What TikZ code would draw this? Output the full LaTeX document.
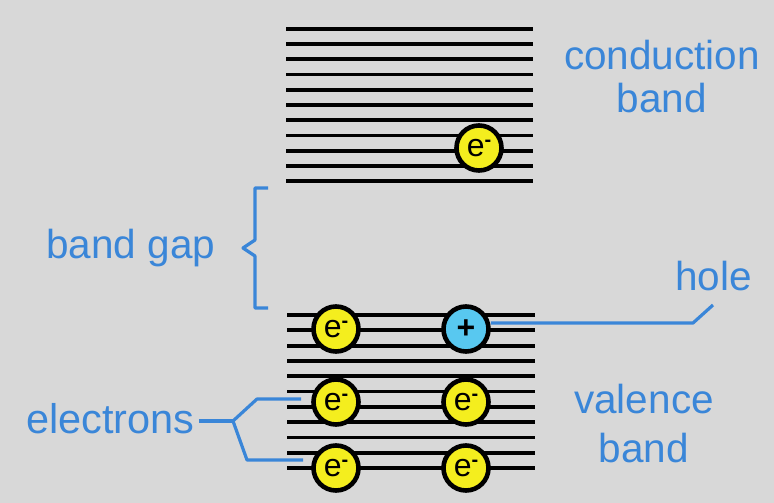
\documentclass[tikz,border=0pt]{standalone}
\usepackage{fontspec}
\setmainfont{Liberation Sans}
\definecolor{bg}{RGB}{216,216,216}
\definecolor{lblue}{RGB}{58,134,216}
\definecolor{eyel}{RGB}{244,238,30}
\definecolor{hcyan}{RGB}{88,200,240}
\tikzset{
  level/.style={line width=3.8pt,black},
  elec/.style={circle,draw=black,line width=4.6pt,fill=eyel,minimum size=45pt,inner sep=0pt,font=\fontsize{32}{32}\selectfont},
  holec/.style={elec,fill=hcyan},
  lab/.style={text=lblue,font=\fontsize{40.5}{40.5}\selectfont,inner sep=0pt,anchor=base},
  conn/.style={draw=lblue,line width=3.2pt,line join=round}
}
\newcommand{\elabel}{e\raisebox{0.6ex}{\fontsize{20}{20}\selectfont\bfseries -}}
\begin{document}
\begin{tikzpicture}[x=1pt,y=-1pt]
\fill[bg] (0,0) rectangle (774,503);
\useasboundingbox (0,0) rectangle (774,503);
% conduction band levels
\foreach \i in {0,...,10} {
  \draw[level] (286,{29+15.2*\i}) -- (533,{29+15.2*\i});
}
% valence band levels
\foreach \i in {0,...,10} {
  \draw[level] (287,{315+15.3*\i}) -- (535,{315+15.3*\i});
}
% particles
\node[elec] (ec) at (479,148) {\elabel};
\node[elec] (e1) at (336,329) {\elabel};
\node[holec] (h) at (466,329) {\bfseries +};
\node[elec] (e3) at (336,402) {\elabel};
\node[elec] (e4) at (466,402) {\elabel};
\node[elec] (e5) at (336,468) {\elabel};
\node[elec] (e6) at (466,468) {\elabel};
% labels
\node[lab] (cb1) at (662,70) {conduction};
\node[lab] (cb2) at (662,112) {band};
\node[lab,anchor=base west] (bg) at (46,258) {band gap};
\node[lab,anchor=base west] (hole) at (675,290) {hole};
\node[lab] (vb1) at (644,413) {valence};
\node[lab] (vb2) at (644,462) {band};
\node[lab,anchor=base west,font=\fontsize{41.5}{41.5}\selectfont] (el) at (26,433) {electrons};
% band gap brace
\draw[conn,line cap=butt] (268,188) -- (255,188) -- (255,240) -- (243,248) -- (255,256) -- (255,308) -- (268,308);
% hole connector
\coordinate (hk) at (693,323);
\coordinate (ht) at (713,305);
\draw[conn] ([yshift=6pt]h.east) -- (hk) -- (ht);
% electrons connector
\coordinate (br) at (233,421);
\coordinate (bu) at (257,399);
\coordinate (bd) at (247,460);
\draw[conn] (el.east |- br) ++(4,0) -- (br);
\draw[conn] (br) -- (bu) -- ([xshift=-10pt,yshift=3pt]e3.west);
\draw[conn] (br) -- (bd) -- ([xshift=-8pt,yshift=8pt]e5.west);
\end{tikzpicture}
\end{document}
